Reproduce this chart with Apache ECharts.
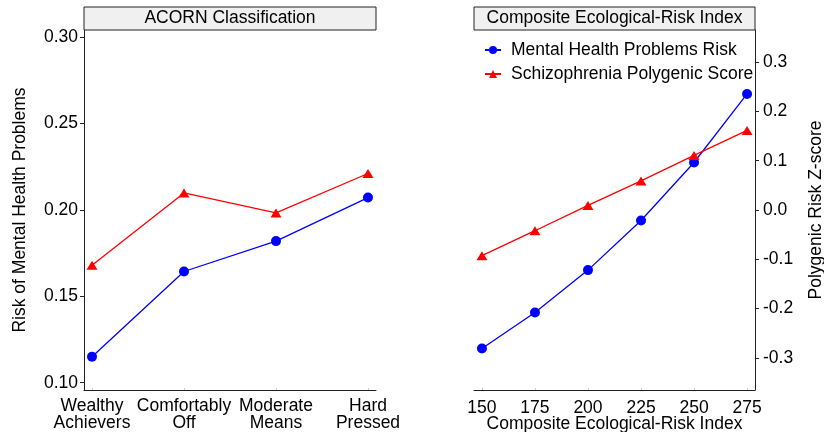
<!DOCTYPE html>
<html>
<head>
<meta charset="utf-8">
<script src="https://cdn.jsdelivr.net/npm/echarts@6/dist/echarts.min.js"></script>
<style>html,body{margin:0;padding:0;background:#fff}#c{width:824px;height:432px}</style>
</head>
<body>
<div id="c"></div>
<script>
// ---- data ----
const acornCategories = ['Wealthy\nAchievers', 'Comfortably\nOff', 'Moderate\nMeans', 'Hard\nPressed'];
const acornMentalRisk = [0.115, 0.1644, 0.182, 0.2072];
const acornPolygenicZ = [-0.112, 0.0345, -0.006, 0.074];
const ceriValues = [150, 175, 200, 225, 250, 275];
const ceriMentalRisk = [0.1198, 0.1407, 0.1652, 0.1939, 0.2275, 0.2672];
const ceriPolygenicZ = [-0.0926, -0.042, 0.0093, 0.059, 0.1107, 0.1614];
const riskTicks = [0.10, 0.15, 0.20, 0.25, 0.30];
const zTicks = [-0.3, -0.2, -0.1, 0.0, 0.1, 0.2, 0.3];
const panelTitles = ['ACORN Classification', 'Composite Ecological-Risk Index'];
const seriesNames = ['Mental Health Problems Risk', 'Schizophrenia Polygenic Score'];

// ---- layout ----
const FONT = '"Liberation Sans", Arial, Helvetica, sans-serif';
const FS = 17.5;
const G0 = {left: 84, top: 30, width: 292, height: 360};
const G1 = {left: 474, top: 30, width: 281, height: 360};
const STRIP_TOP = 7, STRIP_H = 23;
const RISK_MIN = 0.0958, RISK_MAX = 0.3042;
const Z_MIN = -0.365, Z_MAX = 0.365;
const AXC = '#222';

const chart = echarts.init(document.getElementById('c'), null, {renderer: 'canvas'});

function strip(g, title) {
  return [{
    type: 'rect',
    shape: {x: g.left, y: STRIP_TOP, width: g.width, height: STRIP_H},
    style: {fill: '#f0f0f0', stroke: AXC, lineWidth: 1},
    z: 10
  }, {
    type: 'text',
    x: g.left + g.width / 2,
    y: STRIP_TOP + STRIP_H / 2,
    style: {text: title, fill: '#000', font: FS + 'px ' + FONT, align: 'center', verticalAlign: 'middle'},
    z: 11
  }];
}

const labelStyle = {color: '#000', fontSize: FS, fontFamily: FONT};
const gridBase = {containLabel: false, outerBoundsMode: 'none'};

const option = {
  animation: false,
  backgroundColor: '#fff',
  textStyle: {fontFamily: FONT},
  grid: [
    Object.assign({}, gridBase, G0),
    Object.assign({}, gridBase, G1)
  ],
  legend: {
    left: 484, top: 40, orient: 'vertical', padding: 0,
    itemWidth: 16, itemHeight: 10, itemGap: 4,
    data: seriesNames,
    textStyle: Object.assign({lineHeight: 20, padding: [0, 0, 0, 5]}, labelStyle)
  },
  xAxis: [{
    type: 'value', gridIndex: 0,
    min: -0.087, max: 3.087,
    axisLine: {show: true, onZero: false, lineStyle: {color: AXC, width: 1}},
    axisTick: {show: true, inside: true, length: 2, customValues: [0, 1, 2, 3], lineStyle: {color: '#ccc'}},
    splitLine: {show: false},
    axisLabel: Object.assign({
      customValues: [0, 1, 2, 3], margin: 8, lineHeight: 17,
      formatter: v => acornCategories[Math.round(v)]
    }, labelStyle)
  }, {
    type: 'value', gridIndex: 1,
    min: 146.25, max: 278.75,
    name: 'Composite Ecological-Risk Index', nameLocation: 'middle', nameGap: 25,
    nameMoveOverlap: false,
    nameTextStyle: labelStyle,
    axisLine: {show: true, onZero: false, lineStyle: {color: AXC, width: 1}},
    axisTick: {show: true, inside: true, length: 2, customValues: ceriValues, lineStyle: {color: '#ccc'}},
    splitLine: {show: false},
    axisLabel: Object.assign({customValues: ceriValues, margin: 9, formatter: v => String(v)}, labelStyle)
  }],
  yAxis: [{
    type: 'value', gridIndex: 0, position: 'left',
    min: RISK_MIN, max: RISK_MAX,
    name: 'Risk of Mental Health Problems', nameLocation: 'middle', nameGap: 55, nameRotate: 90,
    nameTextStyle: labelStyle,
    axisLine: {show: true, onZero: false, lineStyle: {color: AXC, width: 1}},
    axisTick: {show: true, length: 4, customValues: riskTicks, lineStyle: {color: AXC}},
    splitLine: {show: false},
    axisLabel: Object.assign({customValues: riskTicks, margin: 6, formatter: v => v.toFixed(2)}, labelStyle)
  }, {
    type: 'value', gridIndex: 0, show: false, min: Z_MIN, max: Z_MAX, splitLine: {show: false}
  }, {
    type: 'value', gridIndex: 1, show: false, min: RISK_MIN, max: RISK_MAX, splitLine: {show: false}
  }, {
    type: 'value', gridIndex: 1, position: 'right',
    min: Z_MIN, max: Z_MAX,
    name: 'Polygenic Risk Z-score', nameLocation: 'middle', nameGap: 52, nameRotate: 90,
    nameTextStyle: labelStyle,
    axisLine: {show: true, onZero: false, lineStyle: {color: AXC, width: 1}},
    axisTick: {show: true, length: 4, customValues: zTicks, lineStyle: {color: AXC}},
    splitLine: {show: false},
    axisLabel: Object.assign({customValues: zTicks, margin: 8, formatter: v => v.toFixed(1)}, labelStyle)
  }],
  graphic: strip(G0, panelTitles[0]).concat(strip(G1, panelTitles[1])),
  series: [{
    name: seriesNames[0], type: 'line', xAxisIndex: 0, yAxisIndex: 0,
    data: acornMentalRisk.map((v, i) => [i, v]),
    symbol: 'circle', symbolSize: 10,
    itemStyle: {color: '#0000ff'}, lineStyle: {color: '#0000ff', width: 1.3}
  }, {
    name: seriesNames[1], type: 'line', xAxisIndex: 0, yAxisIndex: 1,
    data: acornPolygenicZ.map((v, i) => [i, v]),
    symbol: 'triangle', symbolSize: [11, 9],
    itemStyle: {color: '#ff0000'}, lineStyle: {color: '#ff0000', width: 1.3}
  }, {
    name: seriesNames[0], type: 'line', xAxisIndex: 1, yAxisIndex: 2,
    data: ceriMentalRisk.map((v, i) => [ceriValues[i], v]),
    symbol: 'circle', symbolSize: 10,
    itemStyle: {color: '#0000ff'}, lineStyle: {color: '#0000ff', width: 1.3}
  }, {
    name: seriesNames[1], type: 'line', xAxisIndex: 1, yAxisIndex: 3,
    data: ceriPolygenicZ.map((v, i) => [ceriValues[i], v]),
    symbol: 'triangle', symbolSize: [11, 9],
    itemStyle: {color: '#ff0000'}, lineStyle: {color: '#ff0000', width: 1.3}
  }]
};
chart.setOption(option);
</script>
</body>
</html>
